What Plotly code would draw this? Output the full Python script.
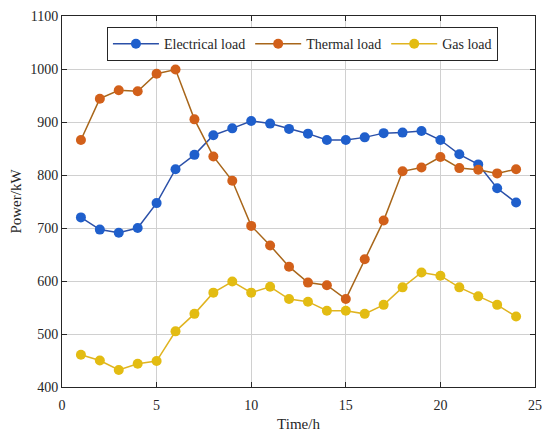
import plotly.graph_objects as go

# ----------------# Données

hours = list(range(1, 25))

electrical_load = [720, 697, 691, 700, 747, 811, 838, 875, 888, 902, 897, 887,
                   878, 866, 866, 871, 879, 880, 883, 866, 839, 820, 775, 748]

thermal_load = [866, 944, 960, 958, 991, 999, 905, 835, 789, 704, 667, 627,
                597, 592, 566, 641, 714, 807, 814, 834, 813, 810, 803, 811]

gas_load = [461, 450, 432, 444, 449, 505, 538, 578, 599, 578, 589, 566,
            561, 544, 544, 538, 555, 588, 616, 610, 588, 571, 555, 533]

series = [
    ("Electrical load", electrical_load, "#2B50A8", "#1F5FCC"),
    ("Thermal load", thermal_load, "#A8661A", "#D2601A"),
    ("Gas load", gas_load, "#E0B420", "#E3BC12"),
]

# ----------------# Graphique

fig = go.Figure()

for name, values, line_col, marker_col in series:
    fig.add_trace(go.Scatter(
        x=hours,
        y=values,
        mode="lines+markers",
        name=name,
        line=dict(color=line_col, width=1.5),
        marker=dict(color=marker_col, size=10),
    ))

axis_style = dict(
    showline=True,
    linecolor="#262626",
    linewidth=1,
    mirror="ticks",
    ticks="inside",
    ticklen=5,
    tickcolor="#262626",
    showgrid=True,
    gridcolor="#D0D0D0",
    gridwidth=1,
    zeroline=False,
    automargin=False,
    tickfont=dict(family="Liberation Serif", size=14, color="#262626"),
)

# la page ajoute une marge de 8 px : figure un peu plus petite que la fenêtre
fig.update_layout(
    width=542,
    height=431,
    margin=dict(l=54, r=15, t=8, b=52),
    plot_bgcolor="white",
    paper_bgcolor="white",
    font=dict(family="Liberation Serif", size=14, color="#262626"),
    xaxis=dict(range=[0, 25], dtick=5, ticklabelstandoff=5,
               title=dict(text="Time/h", font=dict(size=15), standoff=6),
               **axis_style),
    yaxis=dict(range=[400, 1100], dtick=100,
               title=dict(text="Power/kW", font=dict(size=15), standoff=9),
               **axis_style),
    legend=dict(
        orientation="h",
        x=0.095, y=0.97,
        xanchor="left", yanchor="top",
        bgcolor="white",
        bordercolor="#262626",
        borderwidth=1,
        font=dict(family="Liberation Serif", size=14, color="#262626"),
        itemwidth=46,
    ),
    showlegend=True,
)

fig.write_html("out.html")
